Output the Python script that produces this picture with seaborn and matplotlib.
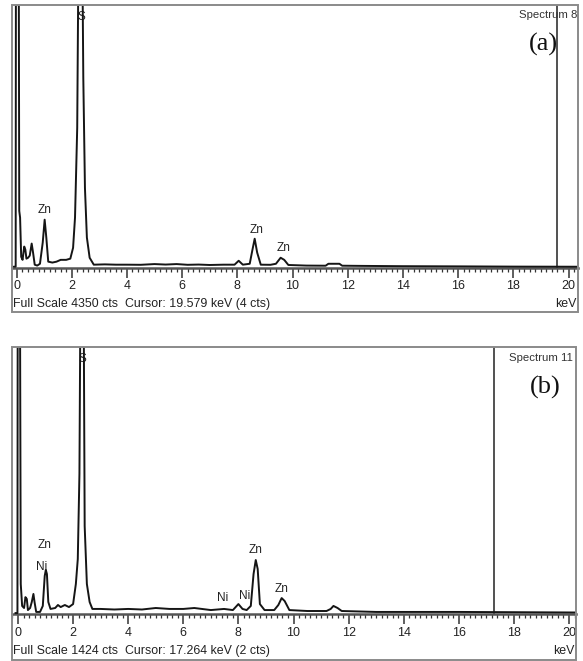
import matplotlib
matplotlib.use("Agg")
import matplotlib.pyplot as plt
import seaborn as sns
import pandas as pd
from matplotlib.ticker import MultipleLocator
from matplotlib.patches import Rectangle

# ---------------- data ----------------
energy_a = [-0.10, -0.03, -0.02, 0.08, 0.10, 0.13, 0.17, 0.22, 0.28, 0.32,
            0.36, 0.42, 0.48, 0.55, 0.60, 0.66, 0.75, 0.85, 0.95, 1.02,
            1.08, 1.15, 1.30, 1.45, 1.60, 1.80, 1.95, 2.05, 2.12, 2.20,
            2.25, 2.38, 2.42, 2.48, 2.55, 2.65, 2.80, 3.20, 3.60, 4.00,
            4.50, 5.00, 5.40, 5.80, 6.20, 6.60, 7.00, 7.50, 7.90, 8.05,
            8.20, 8.45, 8.55, 8.63, 8.72, 8.85, 9.20, 9.40, 9.57, 9.70,
            9.85, 10.50, 11.20, 11.30, 11.70, 11.80, 12.50, 14.00, 16.00, 18.00,
            20.30]
counts_a = [17, 17, 5500, 5500, 940, 830, 180, 130, 350, 300,
            150, 165, 200, 400, 250, 50, 35, 65, 415, 795,
            500, 100, 85, 100, 130, 130, 150, 330, 830, 2320,
            5500, 5500, 3150, 1320, 500, 165, 50, 55, 50, 50,
            48, 60, 52, 60, 48, 52, 45, 50, 50, 115,
            50, 65, 300, 480, 250, 50, 48, 65, 165, 130,
            45, 35, 33, 65, 65, 33, 30, 25, 22, 18,
            16]

energy_b = [-0.10, -0.02, -0.01, 0.07, 0.10, 0.15, 0.22, 0.27, 0.32, 0.36,
            0.44, 0.50, 0.56, 0.60, 0.66, 0.80, 0.90, 0.97, 1.01, 1.05,
            1.10, 1.18, 1.35, 1.45, 1.55, 1.70, 1.85, 2.00, 2.10, 2.17,
            2.23, 2.27, 2.38, 2.42, 2.50, 2.60, 2.70, 3.00, 3.50, 4.00,
            4.50, 5.00, 5.50, 6.00, 6.40, 7.00, 7.48, 7.80, 8.00, 8.15,
            8.30, 8.45, 8.55, 8.63, 8.70, 8.78, 8.95, 9.30, 9.45, 9.57,
            9.68, 9.85, 10.50, 11.20, 11.35, 11.45, 11.60, 11.75, 13.00, 16.00,
            20.30]
counts_b = [5, 5, 1800, 1800, 160, 43, 32, 90, 80, 21,
            32, 64, 107, 64, 11, 11, 43, 203, 235, 213,
            64, 27, 32, 48, 37, 48, 37, 53, 160, 293,
            747, 1800, 1800, 469, 160, 64, 27, 27, 24, 27,
            24, 32, 27, 27, 32, 21, 27, 21, 53, 27,
            21, 43, 213, 288, 240, 53, 21, 21, 48, 85,
            69, 21, 16, 16, 27, 43, 32, 16, 11, 11,
            8]

full_scale_a = 4350
full_scale_b = 1424
cursor_a = 19.579
cursor_b = 17.264
cursor_cts_a = 4
cursor_cts_b = 2

labels_a = ["S", "Zn", "Zn", "Zn"]
label_kev_a = [2.34, 1.03, 8.68, 9.66]
label_cts_a = [4150, 960, 624, 320]

labels_b = ["S", "Zn", "Ni", "Ni", "Ni", "Zn", "Zn"]
label_kev_b = [2.32, 0.98, 0.85, 7.44, 8.22, 8.64, 9.58]
label_cts_b = [1360, 368, 248, 85, 96, 341, 133]

tick_values = list(range(0, 21, 2))

# ---------------- figure ----------------
sns.set_theme(style="white")
plt.rcParams["font.family"] = ["Liberation Sans", "DejaVu Sans"]

W, H = 583, 661
fig = plt.figure(figsize=(W / 100, H / 100), dpi=100)

LINE = "#151515"
FRAME = "#8a8a8a"


def panel(left, top, right, bottom, x0, pxkev, base, full_scale,
          energy, counts, cursor, cursor_cts, labels, lk, lc,
          spec_name, tag, spec_xy, tag_xy, foot_y):
    ax = fig.add_axes([left / W, 1 - bottom / H, (right - left) / W, (bottom - top) / H])
    ax.set_facecolor("white")
    cpp = full_scale / (base - top)
    ax.set_xlim((left - x0) / pxkev, (right - x0) / pxkev)
    ax.set_ylim(-(bottom - base) * cpp, full_scale)

    df = pd.DataFrame({"keV": energy, "cts": counts})
    sns.lineplot(data=df, x="keV", y="cts", ax=ax, color=LINE, linewidth=1.4,
                 estimator=None, sort=False, zorder=3)

    ax.vlines(cursor, 0, full_scale, color="#222222", linewidth=1.1, zorder=2)

    for t, k, c in zip(labels, lk, lc):
        ax.text(k, c, t, ha="center", va="center", fontsize=8.5, color="#222222", zorder=1)

    for s in ["left", "right", "top"]:
        ax.spines[s].set_visible(False)
    ax.spines["bottom"].set_position(("data", 0))
    ax.spines["bottom"].set_color("#555555")
    ax.spines["bottom"].set_linewidth(1.8)
    ax.add_patch(Rectangle((0, 0), 1, 1, transform=ax.transAxes, fill=False,
                           edgecolor=FRAME, linewidth=1.4, clip_on=False, zorder=5))

    ax.set_xticks(tick_values)
    ax.set_xticklabels([str(v) for v in tick_values])
    ax.xaxis.set_minor_locator(MultipleLocator(0.2))
    ax.tick_params(axis="x", which="major", direction="out", length=7, width=1.1,
                   color="#333333", labelsize=9, labelcolor="#222222", pad=2,
                   bottom=True)
    ax.tick_params(axis="x", which="minor", direction="out", length=3, width=0.9,
                   color="#333333", bottom=True)
    ax.set_yticks([])
    ax.set_xlabel("")
    ax.set_ylabel("")

    def axfrac(px, py):
        return ((px - left) / (right - left), (bottom - py) / (bottom - top))

    ax.text(*axfrac(*spec_xy), spec_name, transform=ax.transAxes, ha="right",
            va="center", fontsize=8.2, color="#333333")
    ax.text(*axfrac(*tag_xy), tag, transform=ax.transAxes, ha="center",
            va="center", fontsize=19, family=["Liberation Serif", "DejaVu Serif"],
            color="#111111")
    ax.text(*axfrac(left + 1, foot_y),
            f"Full Scale {full_scale} cts  Cursor: {cursor:.3f} keV ({cursor_cts} cts)",
            transform=ax.transAxes, ha="left", va="center", fontsize=8.9,
            color="#222222")
    ax.text(*axfrac(right - 1, foot_y), "keV", transform=ax.transAxes, ha="right",
            va="center", fontsize=8.9, color="#222222")
    return ax


panel(12, 5, 578, 312, 16.5, 27.6, 267.7, full_scale_a,
      energy_a, counts_a, cursor_a, cursor_cts_a,
      labels_a, label_kev_a, label_cts_a,
      "Spectrum 8", "(a)", (577, 15), (543, 44), 304)

panel(12, 347, 576, 660, 18.0, 27.55, 614, full_scale_b,
      energy_b, counts_b, cursor_b, cursor_cts_b,
      labels_b, label_kev_b, label_cts_b,
      "Spectrum 11", "(b)", (573, 358), (545, 387), 651)

fig.savefig("out.png", dpi=100, facecolor="white")
